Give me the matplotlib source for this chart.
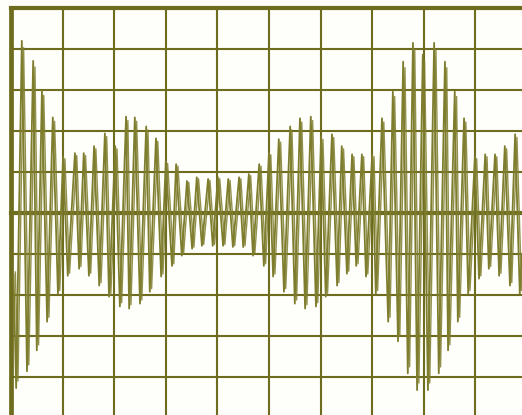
"""
Oscilloscope trace of a beating signal on a graticule
"""

from matplotlib import pyplot as plt
import numpy as np

# time (divisions) and amplitude (divisions) of the trace turning points
t = [0.05, 0.10, 0.21, 0.31, 0.43, 0.50, 0.60, 0.70, 0.81, 0.91, 1.01,
     1.10, 1.24, 1.32, 1.41, 1.51, 1.61, 1.71, 1.82, 1.90, 2.02,
     2.11, 2.23, 2.29, 2.40, 2.50, 2.62, 2.69, 2.81, 2.91, 3.00,
     3.12, 3.20, 3.31, 3.41, 3.51, 3.60, 3.70, 3.82, 3.91, 4.01,
     4.11, 4.21, 4.30, 4.42, 4.50, 4.61, 4.69, 4.81, 4.90, 5.00,
     5.08, 5.19, 5.29, 5.41, 5.50, 5.60, 5.70, 5.81, 5.91, 6.01,
     6.10, 6.22, 6.32, 6.41, 6.51, 6.61, 6.69, 6.80, 6.88, 7.00,
     7.07, 7.19, 7.31, 7.40, 7.50, 7.60, 7.69, 7.79, 7.87, 7.98,
     8.08, 8.20, 8.29, 8.41, 8.47, 8.60, 8.66, 8.78, 8.86, 8.99,
     9.07, 9.19, 9.26, 9.38, 9.46, 9.57, 9.67, 9.77, 9.86, 9.90]
v = [-1.50, -4.27, 4.20, -3.86, 3.71, -3.35, 2.99, -2.65, 2.33, -1.97, 1.38,
     -1.53, 1.46, -1.36, 1.46, -1.53, 1.63, -1.77, 1.94, -2.04, 1.63,
     -2.28, 2.35, -2.33, 2.33, -2.21, 2.11, -1.92, 1.82, -1.55, 1.26,
     -1.29, 1.19, -1.04, 0.78, -0.87, 0.87, -0.80, 0.83, -0.80, 0.87,
     -0.80, 0.83, -0.83, 0.87, -0.83, 0.95, -1.04, 1.19, -1.29, 1.48,
     -1.55, 1.80, -1.92, 2.11, -2.21, 2.31, -2.33, 2.35, -2.28, 1.87,
     -2.04, 1.92, -1.77, 1.63, -1.48, 1.43, -1.29, 1.43, -1.55, 1.43,
     -1.97, 2.31, -2.65, 2.96, -3.13, 3.69, -3.91, 4.15, -4.32, 3.86,
     -4.32, 4.15, -3.91, 3.69, -3.35, 2.96, -2.65, 2.31, -1.97, 1.38,
     -1.60, 1.43, -1.36, 1.43, -1.53, 1.63, -1.77, 1.92, -1.97, -1.00]

x_div = np.arange(1, 10)
y_div = np.array([-4, -3, -2, -1, 1, 2, 3, 4])

green = "#6d6c1f"
trace = "#7e7d2e"
paper = "#fefefa"

fig = plt.figure(figsize=(5.22, 4.15), dpi=100)
fig.patch.set_facecolor(paper)
ax = fig.add_axes([0, 0, 1, 1])
ax.set_facecolor(paper)
ax.set_xlim(-0.213, 9.903)
ax.set_ylim(-4.927, 5.195)
ax.axis("off")

x0 = 0.213 / 10.116
y1 = (5 + 4.927) / (5.195 + 4.927)
for x in x_div:
    ax.axvline(x, ymax=y1, color=green, lw=1.5, zorder=1)
for y in y_div:
    ax.axhline(y, xmin=x0, color=green, lw=1.5, zorder=1)
ax.axhline(0, xmin=x0, color=green, lw=3.0, zorder=1)
# outer frame: top and left edges
ax.axhline(5, xmin=x0, color=green, lw=3.0, zorder=1)
ax.axvline(0, ymax=y1, color=green, lw=3.4, zorder=1)

# the trace is drawn twice, the second pass slightly later (retrace ghost)
tt = np.array(t)
vv = np.array(v)
ax.plot(tt + 0.035, vv * 0.96, color=trace, lw=1.0, alpha=0.85, zorder=2)
ax.plot(tt, vv, color=trace, lw=1.3, zorder=3)

fig.savefig("out.png", dpi=100, facecolor=fig.get_facecolor())
